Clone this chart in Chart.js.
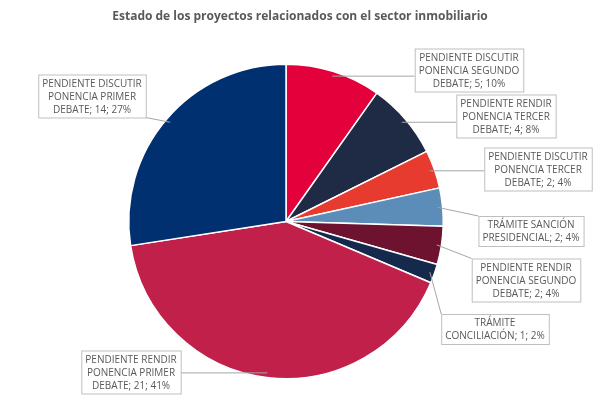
<!DOCTYPE html>
<html>
<head>
<meta charset="utf-8">
<script src="https://cdn.jsdelivr.net/npm/chart.js@4/dist/chart.umd.min.js"></script>
<style>
  html, body { margin: 0; padding: 0; background: #fff; }
  #wrap { width: 601px; height: 417px; position: relative; }
</style>
</head>
<body>
<div id="wrap"><canvas id="pieChart"></canvas></div>
<script>
// Données du graphique
const categorias = [
    'PENDIENTE DISCUTIR PONENCIA SEGUNDO DEBATE',
    'PENDIENTE RENDIR PONENCIA TERCER DEBATE',
    'PENDIENTE DISCUTIR PONENCIA TERCER DEBATE',
    'TRÁMITE SANCIÓN PRESIDENCIAL',
    'PENDIENTE RENDIR PONENCIA SEGUNDO DEBATE',
    'TRÁMITE CONCILIACIÓN',
    'PENDIENTE RENDIR PONENCIA PRIMER DEBATE',
    'PENDIENTE DISCUTIR PONENCIA PRIMER DEBATE'
];
const proyectos = [5, 4, 2, 2, 2, 1, 21, 14];
const porcentajes = ['10%', '8%', '4%', '4%', '4%', '2%', '41%', '27%'];
const colores = ['#e4003b', '#1f2a44', '#e63b2e', '#5b8db8', '#6d1330', '#14294b', '#c0204a', '#003070'];

// Lignes de texte de chaque étiquette
const lignesEtiquettes = [
    ['PENDIENTE DISCUTIR', 'PONENCIA SEGUNDO', 'DEBATE; 5; 10%'],
    ['PENDIENTE RENDIR', 'PONENCIA TERCER', 'DEBATE; 4; 8%'],
    ['PENDIENTE DISCUTIR', 'PONENCIA TERCER', 'DEBATE; 2; 4%'],
    ['TRÁMITE SANCIÓN', 'PRESIDENCIAL; 2; 4%'],
    ['PENDIENTE RENDIR', 'PONENCIA SEGUNDO', 'DEBATE; 2; 4%'],
    ['TRÁMITE', 'CONCILIACIÓN; 1; 2%'],
    ['PENDIENTE RENDIR', 'PONENCIA PRIMER', 'DEBATE; 21; 41%'],
    ['PENDIENTE DISCUTIR', 'PONENCIA PRIMER', 'DEBATE; 14; 27%']
];
// Centres des boîtes d'étiquettes (px)
const positionsEtiquettes = [
    [469, 70], [506, 116], [538, 169], [531, 231],
    [526, 280], [495, 329], [131, 372], [92, 96]
];

const etiquettesPlugin = {
    id: 'etiquettes',
    afterDraw(chart) {
        const ctx = chart.ctx;
        ctx.save();
        ctx.fillStyle = '#595959';
        ctx.font = 'bold 12px "Open Sans", sans-serif';
        ctx.textAlign = 'center';
        ctx.textBaseline = 'middle';
        ctx.fillText('Estado de los proyectos relacionados con el sector inmobiliario', 300, 17);

        ctx.font = '10px "Open Sans", sans-serif';
        const meta = chart.getDatasetMeta(0);
        meta.data.forEach((arc, i) => {
            const lines = lignesEtiquettes[i];
            const [cx, cy] = positionsEtiquettes[i];
            const lh = 13;
            let w = 0;
            lines.forEach(l => { w = Math.max(w, ctx.measureText(l).width); });
            w += 8;
            const h = lines.length * lh + 4;
            const bx = cx - w / 2, by = cy - h / 2;

            // ligne de rappel
            const ang = (arc.startAngle + arc.endAngle) / 2;
            const px = arc.x + Math.cos(ang) * arc.outerRadius * 0.97;
            const py = arc.y + Math.sin(ang) * arc.outerRadius * 0.97;
            const tx = Math.min(Math.max(px, bx), bx + w);
            const ty = Math.min(Math.max(py, by), by + h);
            let ex = tx, ey = ty;
            if (px < bx) ex = bx; else if (px > bx + w) ex = bx + w;
            ctx.strokeStyle = '#a6a6a6';
            ctx.lineWidth = 1;
            ctx.beginPath();
            ctx.moveTo(px, py);
            ctx.lineTo(ex, ey);
            ctx.stroke();

            ctx.fillStyle = '#fff';
            ctx.fillRect(bx, by, w, h);
            ctx.strokeStyle = '#bfbfbf';
            ctx.strokeRect(bx + 0.5, by + 0.5, w, h);
            ctx.fillStyle = '#595959';
            lines.forEach((l, k) => {
                ctx.fillText(l, cx, by + 2 + lh / 2 + k * lh + 1);
            });
        });
        ctx.restore();
    }
};

new Chart(document.getElementById('pieChart').getContext('2d'), {
    type: 'pie',
    data: {
        labels: categorias,
        datasets: [{
            data: proyectos,
            backgroundColor: colores,
            borderColor: '#ffffff',
            borderWidth: 1.5
        }]
    },
    options: {
        responsive: true,
        maintainAspectRatio: false,
        animation: false,
        layout: { padding: { left: 128, right: 157, top: 62, bottom: 36 } },
        plugins: {
            legend: { display: false },
            tooltip: { enabled: false }
        }
    },
    plugins: [etiquettesPlugin]
});
</script>
</body>
</html>
